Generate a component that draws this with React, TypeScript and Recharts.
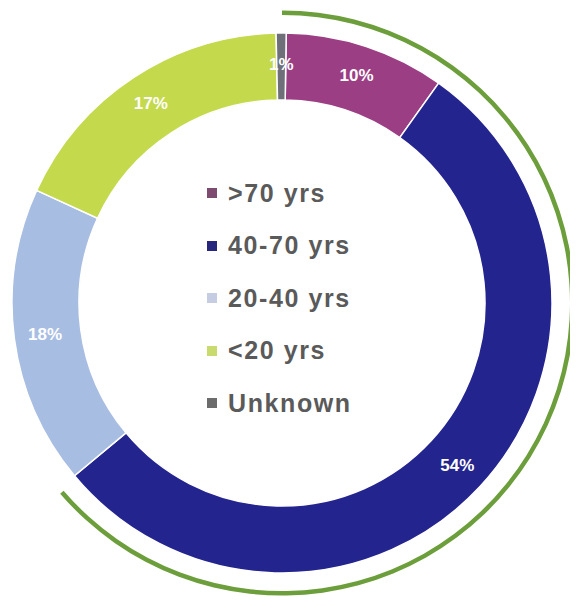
import React from "react";
import { PieChart, Pie, Cell } from "recharts";

const categories = [">70 yrs", "40-70 yrs", "20-40 yrs", "<20 yrs", "Unknown"];
const shares = [9.6, 54.1, 17.9, 17.8, 0.6];
const shareLabels = ["10%", "54%", "18%", "17%", "1%"];
const sliceColors = ["#9c3e84", "#24248f", "#a8bde2", "#c4d94c", "#6f6f7a"];
const legendColors = ["#7d4a70", "#26267c", "#c6cde2", "#c9da6e", "#6c6c6c"];
const highlightCount = 2; // the green outer arc covers >70 and 40-70

const data = categories.map((name, i) => ({ name, value: shares[i], label: shareLabels[i] }));
const ringValue = shares.slice(0, highlightCount).reduce((a, b) => a + b, 0);
const total = shares.reduce((a, b) => a + b, 0);
const ringData = [
  { name: "highlight", value: ringValue },
  { name: "rest", value: total - ringValue },
];

const RAD = Math.PI / 180;
const FONT = '"Liberation Sans", Arial, sans-serif';

const renderLabel = (props: any) => {
  const { cx, cy, midAngle, index } = props;
  const r = 239;
  const x = cx + r * Math.cos(-midAngle * RAD);
  const y = cy + r * Math.sin(-midAngle * RAD);
  return (
    <text
      x={x}
      y={y}
      fill="#ffffff"
      textAnchor="middle"
      dominantBaseline="central"
      fontFamily={FONT}
      fontWeight="bold"
      fontSize={17}
    >
      {shareLabels[index]}
    </text>
  );
};

function LegendBox() {
  return (
    <div style={{ position: "absolute", left: 199, top: 159, fontFamily: FONT }}>
      {categories.map((c, i) => (
        <div key={c} style={{ display: "flex", alignItems: "center", height: 52.5 }}>
          <div
            style={{ width: 10, height: 10, background: legendColors[i], marginRight: 11 }}
          />
          <span
            style={{
              fontSize: 25,
              fontWeight: "bold",
              color: "#5a5a5a",
              letterSpacing: 1.6,
              whiteSpace: "nowrap",
            }}
          >
            {c}
          </span>
        </div>
      ))}
    </div>
  );
}

export default function App() {
  return (
    <div style={{ position: "relative", width: 570, height: 597 }}>
      <PieChart width={570} height={597} margin={{ top: 0, right: 0, bottom: 0, left: 0 }}>
        <Pie
          data={ringData}
          dataKey="value"
          cx={274}
          cy={295}
          innerRadius={288}
          outerRadius={292.5}
          startAngle={90}
          endAngle={-270}
          stroke="none"
          isAnimationActive={false}
        >
          <Cell fill="#6c9e3b" />
          <Cell fill="none" />
        </Pie>
        <Pie
          data={data}
          dataKey="value"
          cx={274}
          cy={295}
          innerRadius={203}
          outerRadius={270}
          startAngle={89.1}
          endAngle={-270.9}
          stroke="#ffffff"
          strokeWidth={1.5}
          label={renderLabel}
          labelLine={false}
          isAnimationActive={false}
        >
          {data.map((d, i) => (
            <Cell key={d.name} fill={sliceColors[i]} />
          ))}
        </Pie>
      </PieChart>
      <LegendBox />
    </div>
  );
}
